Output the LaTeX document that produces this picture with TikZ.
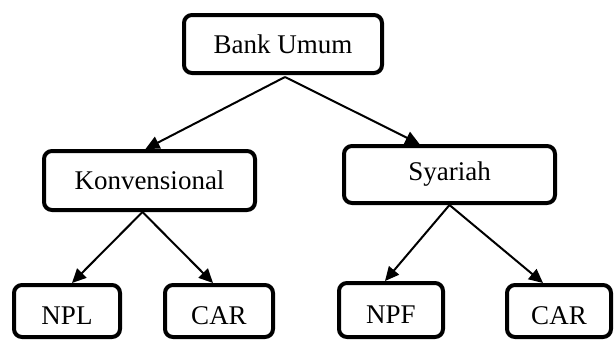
\documentclass[tikz,border=0pt]{standalone}
\usepackage{fontspec}
\setmainfont{Liberation Serif}
\usetikzlibrary{arrows.meta,positioning}

\begin{document}
\begin{tikzpicture}[x=1pt,y=-1pt]
\tikzstyle{every node}+=[inner sep=0pt]
\tikzstyle{box}=[draw=black, line width=4pt, rounded corners=8pt, font=\fontsize{27}{31}\selectfont]
\tikzstyle{leaf}=[box, minimum height=52pt, text height=26pt, text depth=0pt]
\tikzstyle{link}=[black, line width=2pt, -{Triangle[length=14pt,width=13pt]}]
\useasboundingbox (0,0) rectangle (616,340);
\node [box, minimum width=198pt, minimum height=58pt] (bank) at (283,44) {Bank Umum};
\node [box, minimum width=211pt, minimum height=59pt] (konv) at (149.5,180.5) {Konvensional};
\node [box, minimum width=211pt, minimum height=57pt] (syariah) at (449.5,174.5) {Syariah};
\node [leaf, minimum width=106pt] (npl) at (67,311) {NPL};
\node [leaf, minimum width=108pt] (carkonv) at (219,311) {CAR};
\node [leaf, minimum width=104pt, minimum height=54pt] (npf) at (391,310) {NPF};
\node [leaf, minimum width=104pt] (carsyar) at (559,311) {CAR};
\draw [link] ([xshift=2pt,yshift=-2pt]bank.south) -- ([xshift=-4pt]konv.north);
\draw [link] ([xshift=2pt,yshift=-2pt]bank.south) -- ([xshift=-30pt]syariah.north);
\draw [link] ([xshift=-7pt]konv.south) -- ([xshift=5pt]npl.north);
\draw [link] ([xshift=-7pt]konv.south) -- ([xshift=-6pt]carkonv.north);
\draw [link] (syariah.south) -- ([xshift=-6pt]npf.north);
\draw [link] (syariah.south) -- ([xshift=-16pt]carsyar.north);
\end{tikzpicture}
\end{document}
